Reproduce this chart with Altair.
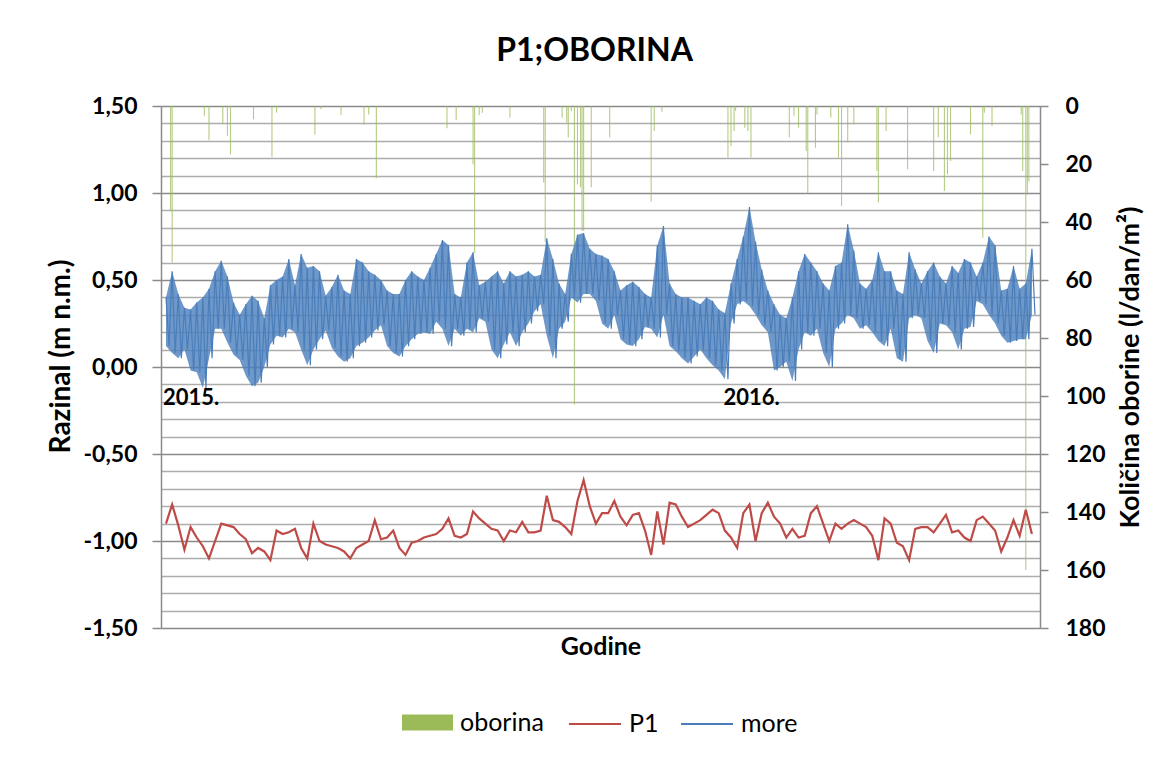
import altair as alt
import pandas as pd

# ---------------- data ----------------
START = "2015-01-01"
END_DAY = 566          # last day shown (2016-07-20)
STEP_DAYS = 4          # spacing of the sampled values below

# sea level ("more"): alternating high / low water read every 4 days
MORE_HI = [0.40, 0.55, 0.42, 0.34, 0.33, 0.37, 0.40, 0.45, 0.55, 0.61,
           0.52, 0.37, 0.30, 0.36, 0.41, 0.38, 0.28, 0.47, 0.50, 0.52,
           0.62, 0.47, 0.65, 0.57, 0.58, 0.55, 0.41, 0.46, 0.53, 0.44,
           0.42, 0.62, 0.60, 0.55, 0.53, 0.50, 0.44, 0.42, 0.42, 0.50,
           0.55, 0.52, 0.50, 0.57, 0.65, 0.73, 0.70, 0.42, 0.40, 0.60,
           0.66, 0.47, 0.49, 0.52, 0.55, 0.48, 0.55, 0.52, 0.53, 0.55,
           0.52, 0.53, 0.74, 0.62, 0.48, 0.42, 0.65, 0.76, 0.77, 0.68,
           0.65, 0.64, 0.62, 0.55, 0.44, 0.47, 0.49, 0.46, 0.42, 0.40,
           0.70, 0.81, 0.48, 0.42, 0.40, 0.40, 0.38, 0.36, 0.40, 0.38,
           0.33, 0.31, 0.48, 0.62, 0.75, 0.92, 0.72, 0.56, 0.44, 0.36,
           0.30, 0.28, 0.40, 0.55, 0.65, 0.60, 0.55, 0.48, 0.44, 0.58,
           0.60, 0.82, 0.67, 0.48, 0.45, 0.50, 0.66, 0.55, 0.55, 0.44,
           0.42, 0.66, 0.56, 0.48, 0.55, 0.60, 0.52, 0.48, 0.58, 0.54,
           0.62, 0.60, 0.52, 0.60, 0.75, 0.70, 0.44, 0.45, 0.58, 0.45,
           0.48, 0.68]
MORE_LO = [0.12, 0.08, 0.05, 0.10, -0.02, -0.03, -0.12, 0.05, 0.22, 0.22,
           0.14, 0.07, 0.04, -0.05, -0.11, -0.09, 0.00, 0.13, 0.18, 0.17,
           0.22, 0.20, 0.10, 0.01, 0.10, 0.16, 0.21, 0.11, 0.06, 0.03,
           0.05, 0.12, 0.14, 0.17, 0.21, 0.24, 0.12, 0.08, 0.06, 0.12,
           0.16, 0.19, 0.20, 0.19, 0.26, 0.22, 0.12, 0.22, 0.18, 0.22,
           0.20, 0.28, 0.26, 0.10, 0.05, 0.13, 0.20, 0.12, 0.20, 0.25,
           0.32, 0.36, 0.18, 0.05, 0.22, 0.26, 0.40, 0.37, 0.42, 0.42,
           0.38, 0.25, 0.22, 0.30, 0.16, 0.13, 0.12, 0.16, 0.23, 0.22,
           0.17, 0.30, 0.12, 0.09, 0.05, 0.02, 0.06, 0.10, 0.05, 0.01,
           -0.02, -0.07, 0.25, 0.36, 0.38, 0.35, 0.30, 0.24, 0.20, -0.02,
           0.00, 0.03, -0.08, 0.10, 0.20, 0.18, 0.22, 0.08, 0.00, 0.22,
           0.25, 0.30, 0.28, 0.22, 0.24, 0.20, 0.15, 0.12, 0.22, 0.05,
           0.03, 0.28, 0.30, 0.28, 0.15, 0.08, 0.25, 0.24, 0.20, 0.10,
           0.22, 0.23, 0.38, 0.36, 0.30, 0.25, 0.18, 0.14, 0.15, 0.16,
           0.16, 0.30]

# piezometer P1, every 4 days
P1 = [-0.90, -0.79, -0.91, -1.05, -0.92, -0.98, -1.03, -1.10, -1.00, -0.90,
      -0.91, -0.92, -0.96, -0.99, -1.07, -1.04, -1.06, -1.11, -0.94, -0.96,
      -0.95, -0.93, -1.04, -1.10, -0.90, -1.00, -1.02, -1.03, -1.04, -1.06,
      -1.10, -1.04, -1.02, -1.00, -0.88, -0.99, -0.98, -0.94, -1.04, -1.08,
      -1.01, -1.00, -0.98, -0.97, -0.96, -0.93, -0.87, -0.97, -0.98, -0.96,
      -0.83, -0.87, -0.90, -0.93, -0.94, -1.00, -0.94, -0.95, -0.89, -0.95,
      -0.95, -0.94, -0.74, -0.88, -0.89, -0.92, -0.96, -0.77, -0.65, -0.80,
      -0.90, -0.84, -0.84, -0.77, -0.86, -0.91, -0.85, -0.84, -0.94, -1.08,
      -0.83, -1.02, -0.78, -0.79, -0.86, -0.92, -0.90, -0.88, -0.85, -0.82,
      -0.84, -0.94, -0.98, -1.04, -0.84, -0.79, -1.00, -0.84, -0.78, -0.86,
      -0.90, -0.98, -0.93, -0.98, -0.97, -0.84, -0.80, -0.90, -1.00, -0.90,
      -0.93, -0.90, -0.88, -0.90, -0.92, -0.97, -1.11, -0.87, -0.90, -1.01,
      -1.03, -1.11, -0.93, -0.92, -0.92, -0.95, -0.90, -0.85, -0.95, -0.94,
      -0.98, -1.00, -0.88, -0.86, -0.90, -0.94, -1.06, -0.98, -0.88, -0.97,
      -0.82, -0.96]

# daily precipitation (day index since 2015-01-01, l/dan/m2)
RAIN_DAYS = [3, 4, 25, 28, 37, 40, 42, 57, 69, 72,
             97, 101, 114, 129, 132, 137, 183, 189, 200, 201,
             204, 206, 224, 246, 247, 258, 261, 262, 264, 266,
             268, 270, 271, 272, 277, 289, 316, 318, 323, 366,
             368, 370, 371, 377, 379, 381, 406, 409, 412, 417,
             418, 423, 424, 433, 438, 440, 444, 448, 463, 464,
             469, 483, 500, 503, 507, 509, 511, 524, 532, 533,
             538, 557, 558, 560, 561, 562]
RAIN_MM = [36, 54, 3.4, 11.8, 6.3, 10.3, 16.7, 4.6, 17.5, 2.3,
           9.8, 1.1, 3.1, 6.5, 2.9, 24.9, 7.7, 4.9, 20.1, 50.6,
           3.1, 2.3, 4.0, 26.4, 47, 4.0, 5.7, 10.9, 1.7, 103,
           27, 28, 43, 43, 28, 10.9, 33, 8.6, 2.0, 17.8,
           13.8, 8.6, 1.7, 7.5, 8.6, 17.8, 10.9, 3.4, 7.5, 15.5,
           30, 14.4, 2.9, 4.0, 17.8, 34.5, 12.6, 6.3, 22.4, 33.3,
           8.6, 21.8, 22.4, 10.9, 29.3, 23.6, 19.0, 9.8, 45.4, 2.3,
           6.9, 2.9, 22.4, 160, 30.6, 26]

YEAR_LABELS = ["2015.", "2016."]
YEAR_DAYS = [0, 365]
YEAR_LABEL_LEVEL = [-0.18, -0.18]

LEFT_TICKS = [-1.5, -1.4, -1.3, -1.2, -1.1, -1.0, -0.9, -0.8, -0.7, -0.6,
              -0.5, -0.4, -0.3, -0.2, -0.1, 0.0, 0.1, 0.2, 0.3, 0.4,
              0.5, 0.6, 0.7, 0.8, 0.9, 1.0, 1.1, 1.2, 1.3, 1.4, 1.5]
RIGHT_TICKS = [0, 20, 40, 60, 80, 100, 120, 140, 160, 180]

# ---------------- tables ----------------
base = pd.Timestamp(START)


def iso(d):
    return (base + pd.Timedelta(days=d)).strftime("%Y-%m-%dT%H:%M:%S")


rows = []
for i, v in enumerate(P1):
    rows.append({"dan": iso(i * STEP_DAYS), "razina": v, "serija": "P1"})
for i, (h, l) in enumerate(zip(MORE_HI, MORE_LO)):
    rows.append({"dan": iso(i * STEP_DAYS), "razina": h, "serija": "more"})
    rows.append({"dan": iso(i * STEP_DAYS + STEP_DAYS / 2), "razina": l, "serija": "more"})
lines_df = pd.DataFrame(rows)

band_df = pd.DataFrame({"dan": [iso(i * STEP_DAYS) for i in range(len(MORE_HI))],
                        "razina": MORE_HI, "razina2": MORE_LO})

rain_df = pd.DataFrame({"dan": [iso(d) for d in RAIN_DAYS], "oborina": RAIN_MM,
                        "serija": ["oborina"] * len(RAIN_DAYS)})
year_df = pd.DataFrame({"dan": [iso(d) for d in YEAR_DAYS], "razina": YEAR_LABEL_LEVEL,
                        "tekst": YEAR_LABELS})

# ---------------- styling ----------------
FONT = "Lato"
MAJ = "abs(datum.value*2 - round(datum.value*2)) < 0.001"
BLUE = "#4A7EBB"
RED = "#BE4B48"
GREEN = "#9BBB59"

x_enc = alt.X("dan:T",
              scale=alt.Scale(domain=[iso(0), iso(END_DAY)], nice=False),
              axis=alt.Axis(title="Godine", labels=False, ticks=False, domain=False, grid=False,
                            titleFont=FONT, titleFontSize=25, titleFontWeight="bold",
                            titleColor="black", titlePadding=6))

y_left = alt.Y("razina:Q",
               scale=alt.Scale(domain=[-1.5, 1.5], nice=False, zero=False),
               axis=alt.Axis(orient="left", values=LEFT_TICKS, grid=True,
                             gridColor={"condition": {"test": MAJ, "value": "#8A8A8A"}, "value": "#ADADAD"},
                             gridWidth={"condition": {"test": MAJ, "value": 1.6}, "value": 1.3},
                             tickOpacity={"condition": {"test": MAJ, "value": 1}, "value": 0},
                             tickSize=9, tickColor="#8A8A8A", tickWidth=1.5,
                             domainColor="#8A8A8A", domainWidth=1.5,
                             labelExpr=MAJ + " ? ((datum.value < -0.001 ? '-' : '') + replace(format(abs(datum.value), '.2f'), '.', ',')) : ''",
                             labelOverlap=False, labelFont=FONT, labelFontSize=23,
                             labelFontWeight="bold", labelColor="black", labelPadding=15,
                             title="Razinal (m n.m.)", titleFont=FONT, titleFontSize=28,
                             titleFontWeight="bold", titleColor="black", titlePadding=8,
                             titleY=250))

line_color = alt.Color("serija:N",
                       scale=alt.Scale(domain=["P1", "more"], range=[RED, BLUE]),
                       legend=alt.Legend(orient="none", legendX=407, legendY=591,
                                         direction="horizontal", title=None,
                                         symbolType="stroke", symbolSize=2704, symbolStrokeWidth=2,
                                         labelFont=FONT, labelFontSize=25, labelColor="black",
                                         labelOffset=7, columnPadding=18, padding=0))

more_band = alt.Chart(band_df).mark_area(color=BLUE, opacity=0.8).encode(
    x=x_enc, y=y_left, y2="razina2:Q")
p1_line = alt.Chart(lines_df).transform_filter(alt.datum.serija == "P1").mark_line(
    strokeWidth=2.2).encode(x=x_enc, y=y_left, color=line_color)
more_line = alt.Chart(lines_df).transform_filter(alt.datum.serija == "more").mark_line(
    strokeWidth=1.2).encode(x=x_enc, y=y_left, color=line_color)
year_text = alt.Chart(year_df).mark_text(
    align="left", baseline="middle", font=FONT, fontSize=22, fontWeight="bold", color="black",
    dx=-3
).encode(x=x_enc, y=y_left, text="tekst:N")

left = alt.layer(p1_line, more_band, more_line, year_text)

rain = alt.Chart(rain_df).mark_bar(size=1.1, opacity=0.75).encode(
    x=x_enc,
    y=alt.Y("oborina:Q",
            scale=alt.Scale(domain=[0, 180], reverse=True, nice=False),
            axis=alt.Axis(orient="right", values=RIGHT_TICKS, grid=False,
                          tickSize=8, tickColor="#8A8A8A", tickWidth=1.5,
                          domainColor="#8A8A8A", domainWidth=1.5,
                          labelFont=FONT, labelFontSize=23, labelFontWeight="bold",
                          labelColor="black", labelPadding=17,
                          title="Količina oborine (l/dan/m²)", titleAngle=270,
                          titleFont=FONT, titleFontSize=27, titleFontWeight="bold",
                          titleColor="black", titlePadding=39)),
    y2=alt.datum(0),
    color=alt.Color("serija:N",
                    scale=alt.Scale(domain=["oborina"], range=[GREEN]),
                    legend=alt.Legend(orient="none", legendX=241, legendY=591, title=None,
                                      symbolType="M-1,-0.31H1V0.31H-1Z", symbolSize=2601,
                                      symbolStrokeWidth=0, symbolOpacity=1,
                                      labelFont=FONT, labelFontSize=25, labelColor="black",
                                      labelOffset=7, padding=0)),
)

chart = alt.layer(rain, left).resolve_scale(
    y="independent", color="independent"
).resolve_legend(color="independent").properties(
    width=879, height=522,
    title=alt.TitleParams("P1;OBORINA", font=FONT, fontSize=32, fontWeight="bold",
                          color="black", anchor="middle", frame="group", offset=27, dx=-6),
    padding={"left": 153, "top": 98, "right": 127, "bottom": 121},
    autosize=alt.AutoSizeParams(type="none"),
    background="white",
).configure_view(stroke=None)

chart.save("out.html", embed_options={"renderer": "svg", "actions": False})
